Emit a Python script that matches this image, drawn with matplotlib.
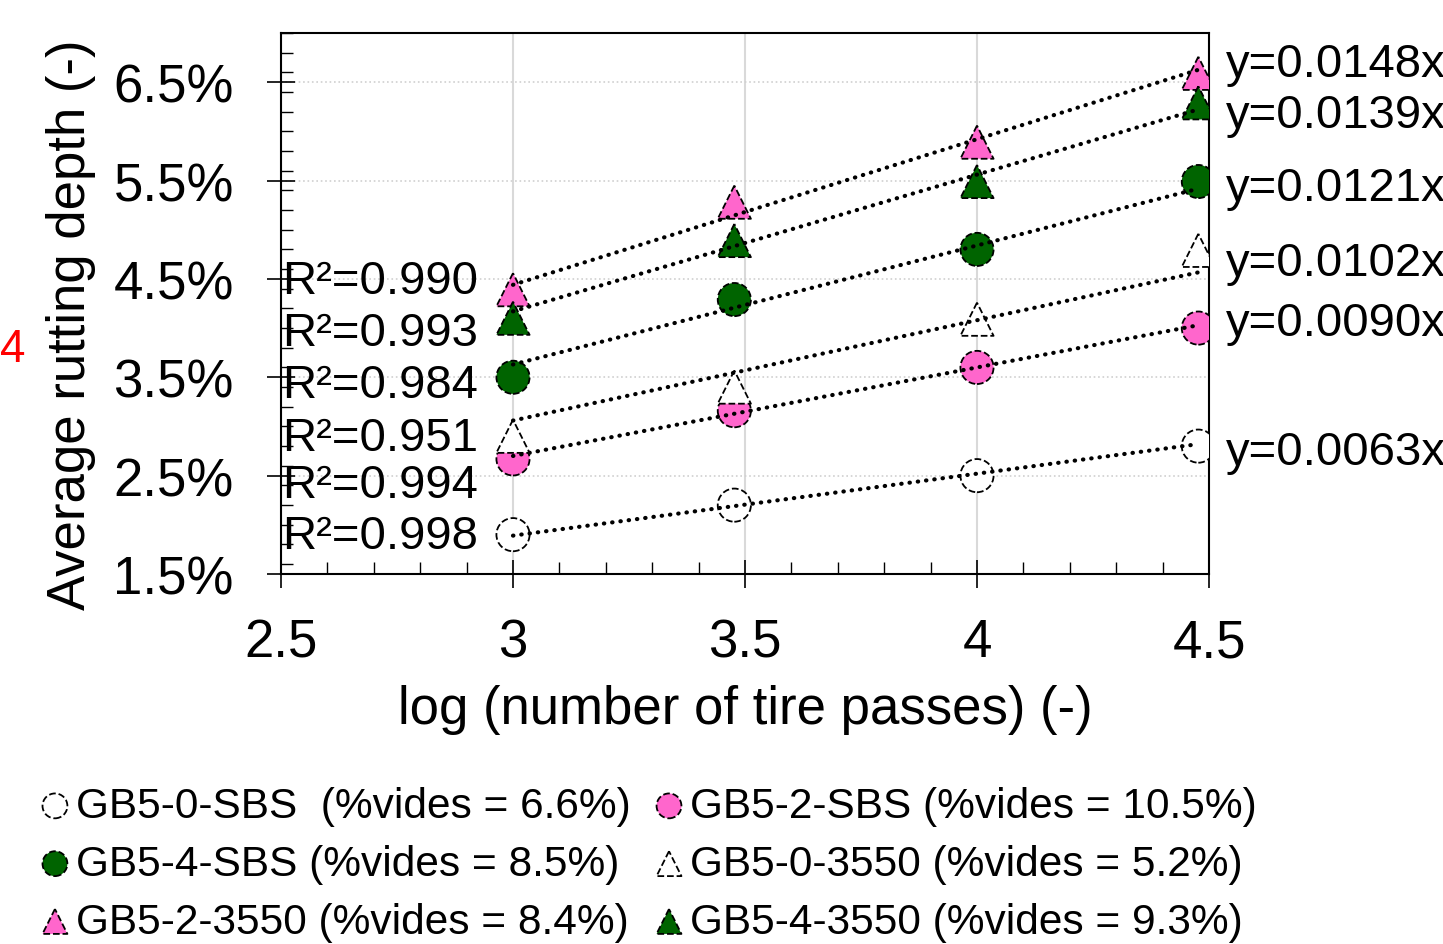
import matplotlib
matplotlib.use("Agg")
import matplotlib.pyplot as plt
from matplotlib.ticker import MultipleLocator, PercentFormatter

plt.rcParams['font.family'] = ['Liberation Sans', 'DejaVu Sans']

# log10 of the number of tire passes (1000, 3000, 10000, 30000)
log_passes = [3.0, 3.477, 4.0, 4.477]

# average rutting depth (fraction)
gb5_0_sbs = [0.0190, 0.0220, 0.0250, 0.0280]
gb5_2_sbs = [0.0267, 0.0316, 0.0360, 0.0400]
gb5_4_sbs = [0.0350, 0.0429, 0.0480, 0.0549]
gb5_0_3550 = [0.0290, 0.0340, 0.0409, 0.0479]
gb5_2_3550 = [0.0439, 0.0528, 0.0589, 0.0659]
gb5_4_3550 = [0.0410, 0.0489, 0.0549, 0.0629]

names = ['GB5-0-SBS  (%vides = 6.6%)', 'GB5-2-SBS (%vides = 10.5%)',
         'GB5-4-SBS (%vides = 8.5%)', 'GB5-0-3550 (%vides = 5.2%)',
         'GB5-2-3550 (%vides = 8.4%)', 'GB5-4-3550 (%vides = 9.3%)']
series = [gb5_0_sbs, gb5_2_sbs, gb5_4_sbs, gb5_0_3550, gb5_2_3550, gb5_4_3550]

# trendlines y = a*x (through origin) and their R²
slopes = [0.0063, 0.0090, 0.0121, 0.0102, 0.0148, 0.0139]
r2 = [0.998, 0.994, 0.984, 0.951, 0.990, 0.993]

markers = ['o', 'o', 'o', '^', '^', '^']
colors = ['white', '#FF66CC', '#006400', 'white', '#FF66CC', '#006400']

# where the annotation texts sit (y in data units)
r2_label_y = [0.01886, 0.02404, 0.03419, 0.02881, 0.04475, 0.03947]
eq_label_y = [0.02739, 0.04049, 0.05429, 0.04658, 0.06688, 0.06170]

fig = plt.figure(figsize=(14.43, 9.45), dpi=100)
ax = fig.add_axes([281 / 1443, 1 - 575 / 945, 928 / 1443, 541 / 945])

handles = []
for vals, name, m, c in zip(series, names, markers, colors):
    h = ax.scatter(log_passes, vals, s=570, marker=m, facecolors=c,
                   edgecolors='black', linewidths=1.3, linestyle='--',
                   zorder=3, label=name)
    handles.append(h)

for a in slopes:
    xs = [log_passes[0], log_passes[-1]]
    ax.plot(xs, [a * x for x in xs], color='black', lw=3.0,
            linestyle=(0, (0.1, 1.9)), dash_capstyle='round', zorder=4)

for a, yl in zip(slopes, eq_label_y):
    ax.text(4.536, yl, f'y={a:.4f}x', fontsize=34, ha='left', va='center',
            clip_on=False)
for r, yl in zip(r2, r2_label_y):
    ax.text(2.503, yl, f'R²={r:.3f}', fontsize=34, ha='left', va='center',
            clip_on=False, zorder=5)

ax.set_xlim(2.5, 4.5)
ax.set_ylim(0.015, 0.070)
ax.xaxis.set_major_locator(MultipleLocator(0.5))
ax.xaxis.set_minor_locator(MultipleLocator(0.1))
ax.set_yticks([0.015, 0.025, 0.035, 0.045, 0.055, 0.065])
ax.yaxis.set_minor_locator(MultipleLocator(0.002))
ax.yaxis.set_major_formatter(PercentFormatter(1.0, decimals=1))
ax.xaxis.set_major_formatter(plt.FuncFormatter(lambda v, p: f'{v:g}'))

ax.tick_params(which='major', direction='inout', length=20, width=1.2,
               labelsize=38)
ax.tick_params(axis='y', which='major', pad=24)
ax.tick_params(axis='x', which='major', pad=21)
ax.tick_params(which='minor', direction='in', length=8.5, width=1.0)
for sp in ax.spines.values():
    sp.set_linewidth(1.5)

ax.set_axisbelow(True)
ax.grid(axis='x', which='major', color='#d9d9d9', lw=1.5, ls='-')
ax.grid(axis='y', which='major', color='#d0d0d0', lw=1.2, ls=':')

fig.text(71 / 1443, 1 - 325 / 945, 'Average rutting depth (-)', fontsize=38,
         rotation=90, ha='center', va='center')
fig.text(745 / 1443, 1 - 710 / 945, 'log (number of tire passes) (-)',
         fontsize=38, ha='center', va='center')
fig.text(0.0, 1 - 350 / 945, '4', color='red', fontsize=33,
         ha='left', va='center')

# legend filled column by column
order = [0, 2, 4, 1, 3, 5]
fig.legend([handles[i] for i in order], [names[i] for i in order],
           loc='upper left', bbox_to_anchor=(38 / 1443, 1 - 787 / 945),
           ncol=2, frameon=False, fontsize=30.5, markerscale=0.75,
           handlelength=0.8, handletextpad=0.1, columnspacing=0.5,
           labelspacing=0.42, borderpad=0, borderaxespad=0)

fig.savefig('out.png', dpi=100)
